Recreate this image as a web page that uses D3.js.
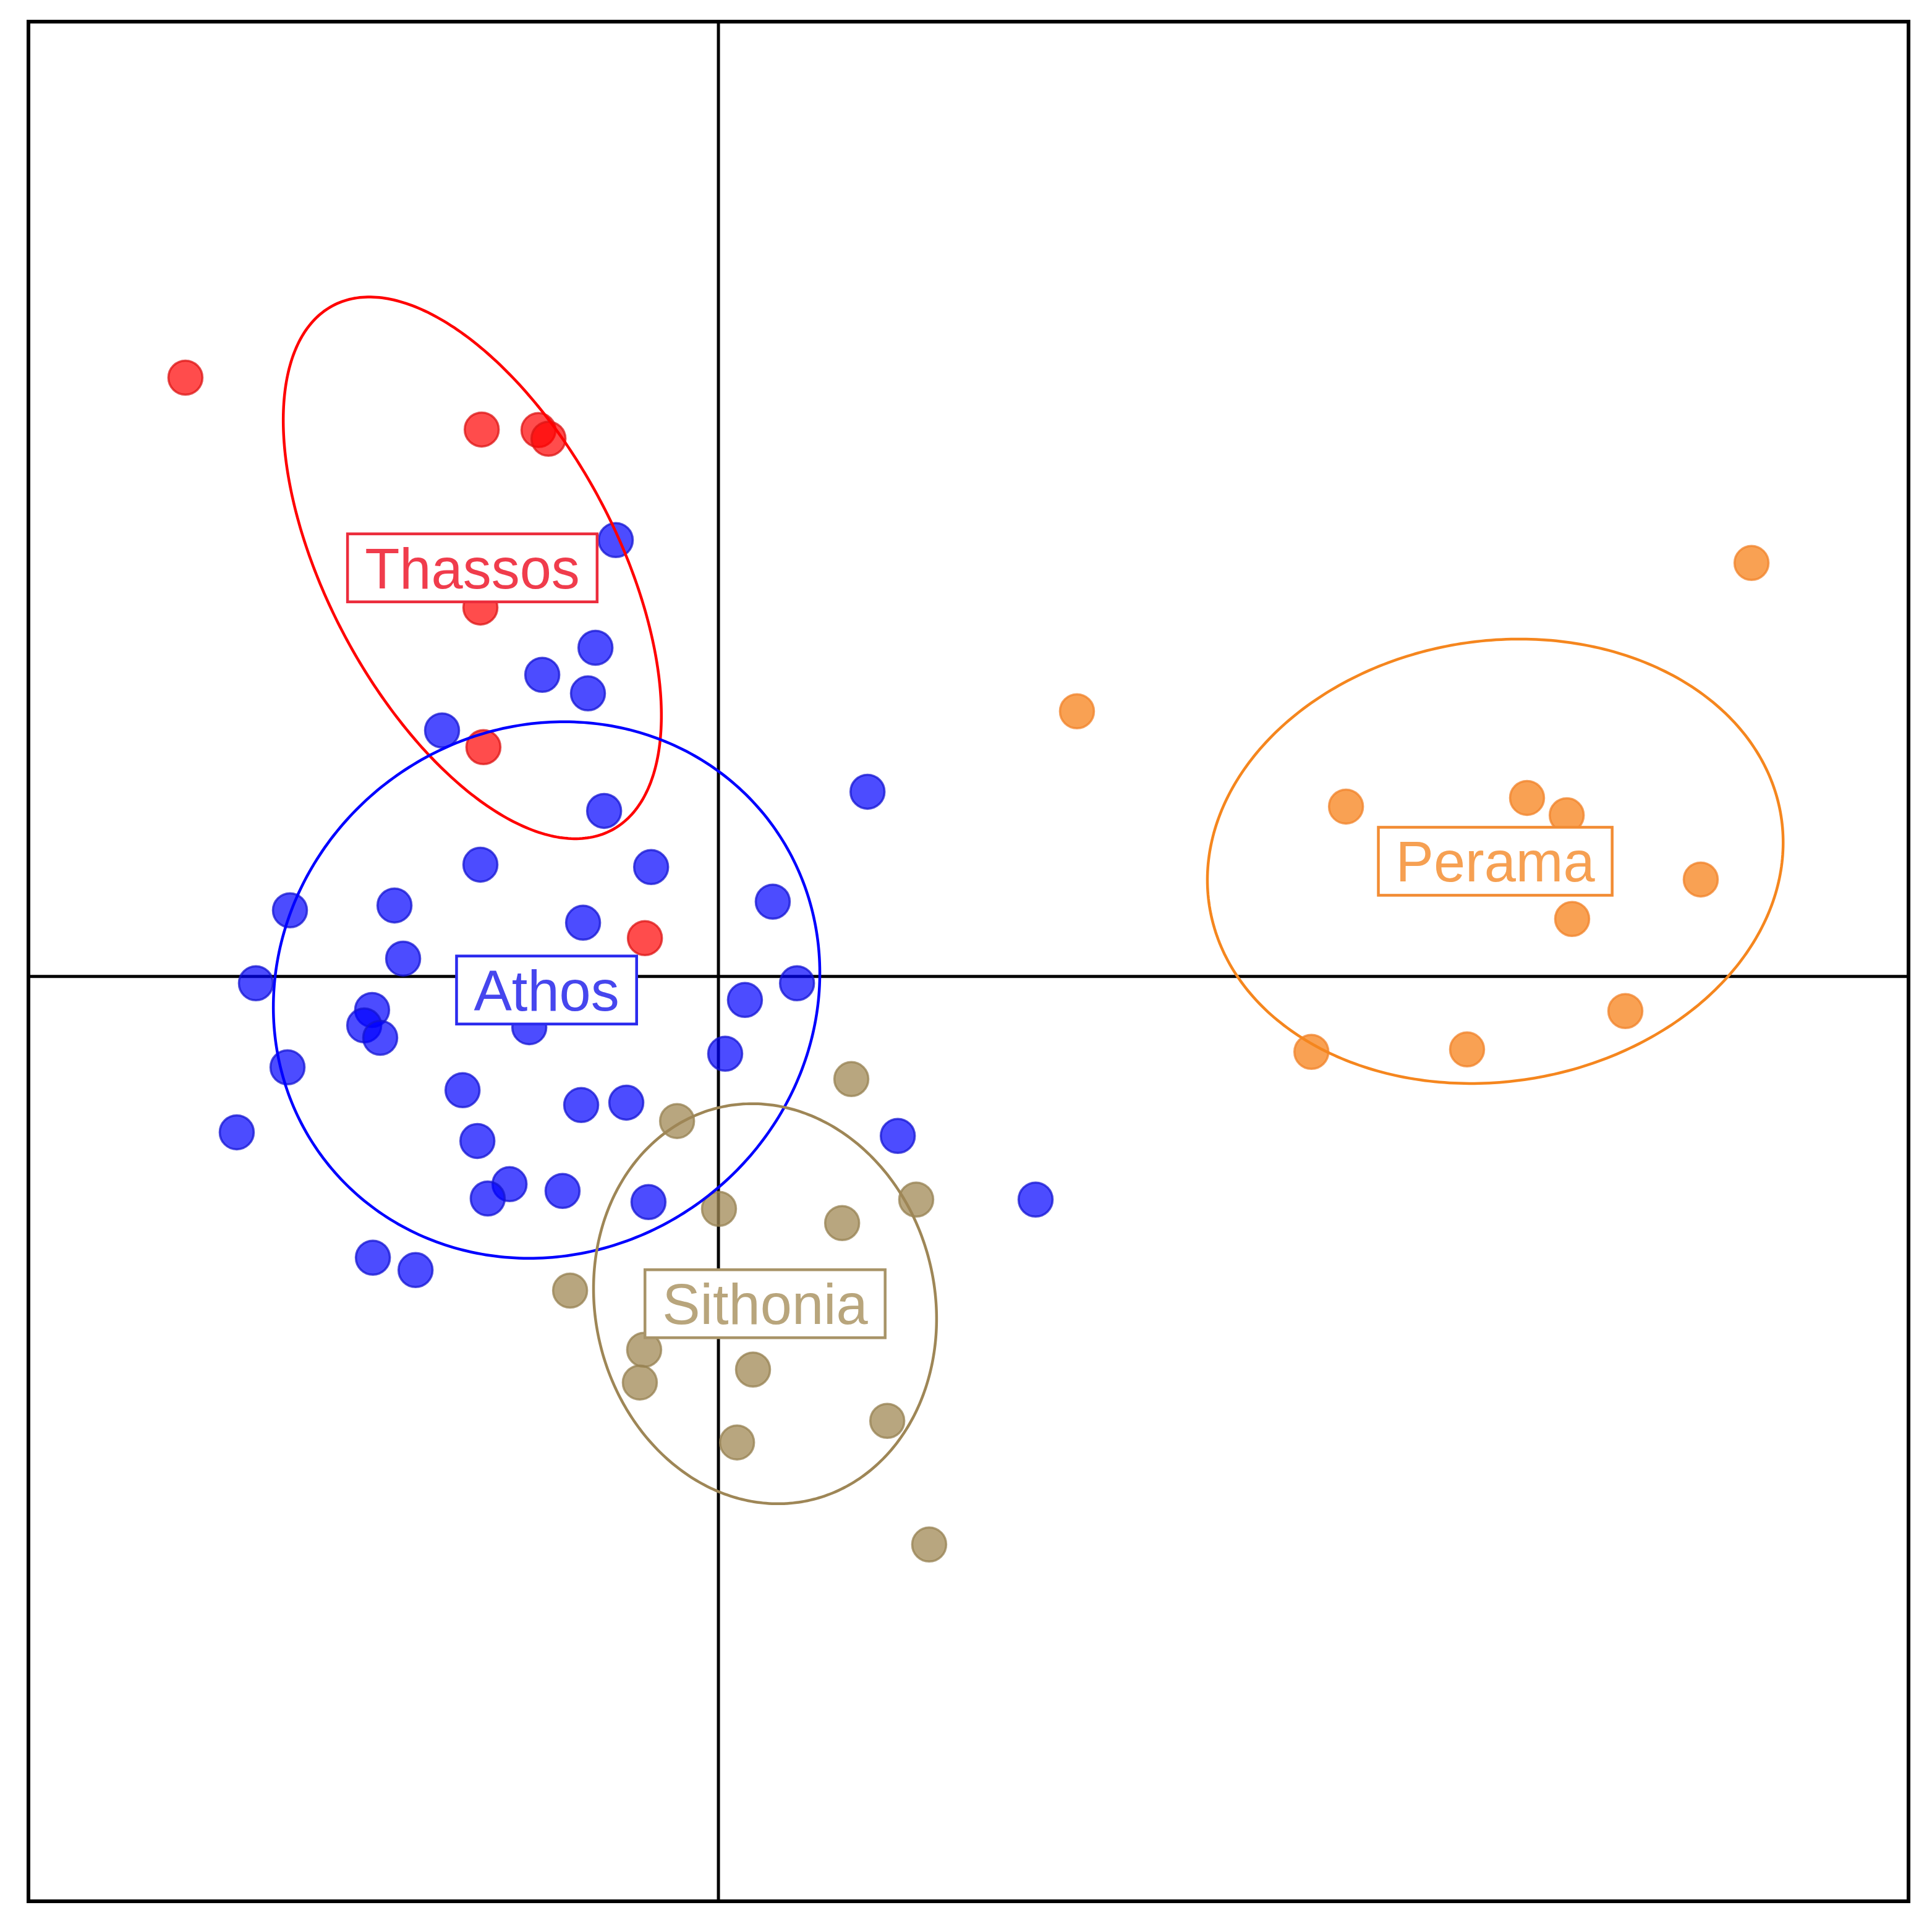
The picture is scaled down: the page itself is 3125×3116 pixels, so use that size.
<!DOCTYPE html>
<html>
<head>
<meta charset="utf-8">
<script src="https://cdn.jsdelivr.net/npm/d3@7"></script>
<style>
  html, body { margin: 0; padding: 0; background: #ffffff; }
  svg { display: block; }
</style>
</head>
<body>
<svg id="chart" width="3125" height="3116"></svg>
<script>
// ---- Data (PCA-like scores, arbitrary units) ----
const groups = ["Thassos", "Athos", "Sithonia", "Perama"];

const thassosX = [-2.835, -1.259, -0.957, -0.904, -1.266, -1.250, -0.391];
const thassosY = [ 3.186,  2.910,  2.907,  2.861,  1.963,  1.220,  0.204];

const athosX = [-0.546, -0.654, -0.937, -0.694, -1.470, -0.608, -1.266, -0.358, -2.279, -1.723,
                 0.289, -0.720, -1.677, -2.460,  0.418,  0.141, -1.842, -1.884, -1.799, -1.006,
                -2.292,  0.036, -1.361, -0.730, -0.490, -2.562, -1.282, -1.111, -1.227, -0.829,
                -0.372, -1.838, -1.611,  0.793,  0.954,  1.687];
const athosY = [ 2.322,  1.749,  1.605,  1.506,  1.309,  0.881,  0.595,  0.582,  0.352,  0.378,
                 0.398,  0.286,  0.095, -0.036, -0.036, -0.125, -0.178, -0.260, -0.326, -0.270,
                -0.483, -0.411, -0.605, -0.684, -0.671, -0.829, -0.875, -1.105, -1.181, -1.141,
                -1.200, -1.496, -1.562,  0.983, -0.848, -1.187];

const sithoniaX = [0.707, -0.220, 0.003, 1.052, 0.658, -0.789, -0.395, -0.418, 0.184, 0.898, 0.099, 1.121];
const sithoniaY = [-0.546, -0.769, -1.236, -1.187, -1.312, -1.671, -1.986, -2.160, -2.091, -2.364, -2.479, -3.022];

const peramaX = [5.495, 1.907, 3.338, 4.301, 4.512, 5.225, 4.541, 4.824, 3.982, 3.154];
const peramaY = [2.200, 1.411, 0.904, 0.950, 0.858, 0.516, 0.306, -0.184, -0.388, -0.401];

// confidence ellipses: centre, semi-axes, rotation (degrees, data space)
const ellipseCX    = [-1.309, -0.914,  0.248, 4.132];
const ellipseCY    = [ 2.174, -0.072, -1.741, 0.613];
const ellipseA     = [ 1.580,  1.487,  1.072, 1.539];
const ellipseB     = [ 0.769,  1.392,  0.903, 1.172];
const ellipseAngle = [-62,     37,    -77,    8.93];

const xDomain = [-3.67, 6.33];
const yDomain = [-4.92, 5.08];

// ---- Styles ----
const dotFill     = ["rgba(255,0,0,0.70)", "rgba(0,0,255,0.70)", "rgba(160,136,84,0.75)", "rgba(247,137,40,0.80)"];
const dotStroke   = ["rgba(220,20,20,0.75)", "rgba(20,20,210,0.75)", "rgba(150,128,80,0.75)", "rgba(240,130,40,0.75)"];
const ellStroke   = ["#ff0000", "#0000ff", "#9e8656", "#f5861e"];
const labelText   = ["#f03c4c", "#4646ee", "#b8a57c", "#f6a052"];
const labelStroke = ["#ec2c3c", "#2a2aee", "#a89468", "#f28c34"];

const xs = [thassosX, athosX, sithoniaX, peramaX];
const ys = [thassosY, athosY, sithoniaY, peramaY];

// ---- Layout ----
const plotLeft = 46, plotRight = 3087, plotTop = 35, plotBottom = 3076;
const svg = d3.select("#chart");

const x = d3.scaleLinear().domain(xDomain).range([plotLeft, plotRight]);
const y = d3.scaleLinear().domain(yDomain).range([plotBottom, plotTop]);

// axes through origin
svg.append("line")
  .attr("x1", x(xDomain[0])).attr("x2", x(xDomain[1]))
  .attr("y1", y(0)).attr("y2", y(0))
  .attr("stroke", "#000").attr("stroke-width", 5);
svg.append("line")
  .attr("x1", x(0)).attr("x2", x(0))
  .attr("y1", y(yDomain[0])).attr("y2", y(yDomain[1]))
  .attr("stroke", "#000").attr("stroke-width", 5);

// points
groups.forEach((g, gi) => {
  const pts = xs[gi].map((v, i) => ({x: v, y: ys[gi][i]}));
  svg.append("g").selectAll("circle").data(pts).join("circle")
    .attr("cx", d => x(d.x))
    .attr("cy", d => y(d.y))
    .attr("r", 27.5)
    .attr("fill", dotFill[gi])
    .attr("stroke", dotStroke[gi])
    .attr("stroke-width", 3.5);
});

// ellipses
const line = d3.line().x(d => x(d[0])).y(d => y(d[1])).curve(d3.curveLinearClosed);
groups.forEach((g, gi) => {
  const phi = ellipseAngle[gi] * Math.PI / 180;
  const a = ellipseA[gi], b = ellipseB[gi];
  const pts = d3.range(0, 360, 1).map(t => {
    const r = t * Math.PI / 180;
    return [
      ellipseCX[gi] + a * Math.cos(r) * Math.cos(phi) - b * Math.sin(r) * Math.sin(phi),
      ellipseCY[gi] + a * Math.cos(r) * Math.sin(phi) + b * Math.sin(r) * Math.cos(phi)
    ];
  });
  svg.append("path")
    .attr("d", line(pts))
    .attr("fill", "none")
    .attr("stroke", ellStroke[gi])
    .attr("stroke-width", 4.5);
});

// labels
groups.forEach((g, gi) => {
  const cx = x(ellipseCX[gi]), cy = y(ellipseCY[gi]);
  const lg = svg.append("g");
  const rect = lg.append("rect");
  const txt = lg.append("text")
    .attr("x", cx).attr("y", cy + 33)
    .attr("text-anchor", "middle")
    .attr("font-family", "'Liberation Sans', Arial, sans-serif")
    .attr("font-size", 92)
    .attr("fill", labelText[gi])
    .text(g);
  const w = txt.node().getComputedTextLength() + 56;
  rect.attr("x", cx - w / 2).attr("y", cy - 55)
    .attr("width", w).attr("height", 110)
    .attr("fill", "#ffffff")
    .attr("stroke", labelStroke[gi])
    .attr("stroke-width", 4.5);
});

// frame
svg.append("rect")
  .attr("x", plotLeft).attr("y", plotTop)
  .attr("width", plotRight - plotLeft).attr("height", plotBottom - plotTop)
  .attr("fill", "none").attr("stroke", "#000").attr("stroke-width", 6);
</script>
</body>
</html>
